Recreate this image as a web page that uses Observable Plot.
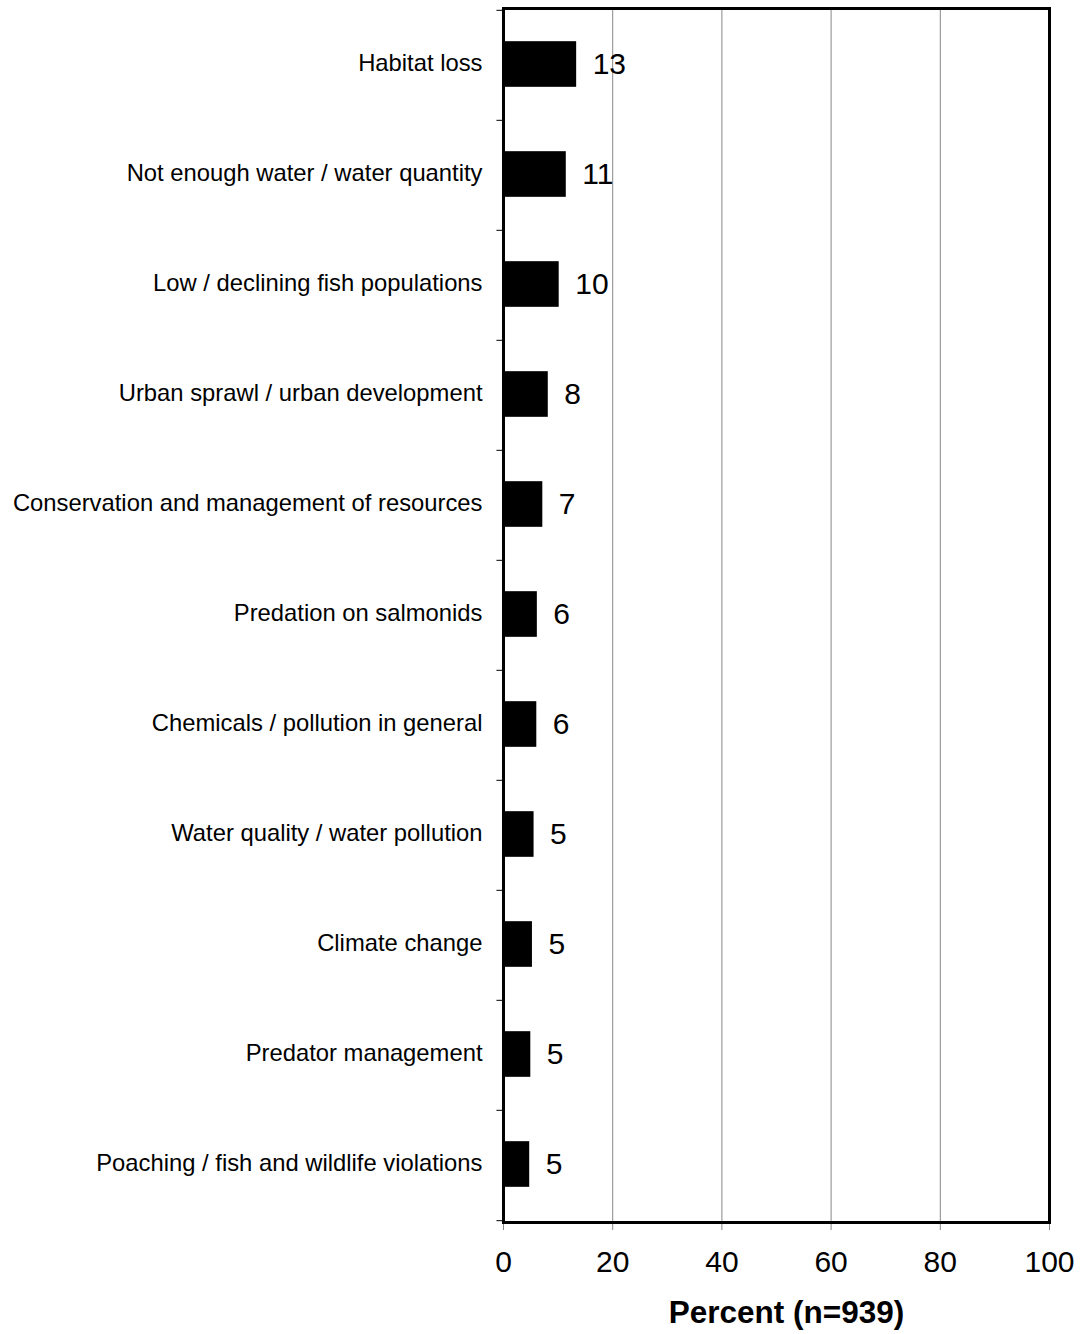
<!DOCTYPE html>
<html>
<head>
<meta charset="utf-8">
<script src="https://cdn.jsdelivr.net/npm/d3@7"></script>
<script src="https://cdn.jsdelivr.net/npm/@observablehq/plot@0.6"></script>
<style>
  body { margin: 0; background: #fff; }
  svg { font-family: "Liberation Sans", Arial, sans-serif; }
</style>
</head>
<body>
<div id="chart"></div>
<script>
const categories = [
  "Habitat loss",
  "Not enough water / water quantity",
  "Low / declining fish populations",
  "Urban sprawl / urban development",
  "Conservation and management of resources",
  "Predation on salmonids",
  "Chemicals / pollution in general",
  "Water quality / water pollution",
  "Climate change",
  "Predator management",
  "Poaching / fish and wildlife violations"
];
const values = [13.4, 11.5, 10.2, 8.2, 7.2, 6.2, 6.1, 5.6, 5.3, 5.0, 4.8];
const labels = ["13", "11", "10", "8", "7", "6", "6", "5", "5", "5", "5"];
const xTicks = [0, 20, 40, 60, 80, 100];
const axisTitle = "Percent (n=939)";

const data = categories.map((c, i) => ({category: c, value: values[i], label: labels[i]}));

const W = 1081, H = 1334;
const mL = 503, mR = 32, mT = 8, mB = 112;
const bw = (H - mT - mB) / categories.length;
const boundaries = categories.map((c, i) => ({category: c, dy: -bw / 2}))
  .concat([{category: categories[categories.length - 1], dy: bw / 2}]);

const chart = Plot.plot({
  width: W,
  height: H,
  marginLeft: mL,
  marginRight: mR,
  marginTop: mT,
  marginBottom: mB,
  style: {fontFamily: "'Liberation Sans', Arial, sans-serif", background: "#fff"},
  x: {domain: [0, 100]},
  y: {domain: categories, padding: 0},
  marks: [
    Plot.gridX(xTicks.filter(d => d > 0 && d < 100), {stroke: "#888", strokeOpacity: 1, strokeWidth: 1}),
    Plot.axisX(xTicks, {tickSize: 8, tickPadding: 20, fontSize: 30, stroke: "#888", strokeOpacity: 1, fill: "#000", label: null, tickFormat: d => String(d)}),
    Plot.axisY({tickSize: 0, tickPadding: 21, fontSize: 23.8, dy: -2, label: null, fill: "#000"}),
    Plot.barX(data, {x: "value", y: "category", fill: "#000", insetTop: (bw - 46) / 2 - 1, insetBottom: (bw - 46) / 2 + 1}),
    Plot.text(data, {x: "value", y: "category", text: "label", dx: 16, dy: -1, textAnchor: "start", fontSize: 30, fill: "#000"}),
    ...boundaries.map(b => Plot.ruleY([b], {y: "category", x1: -1.2, x2: 0, dy: b.dy, stroke: "#000", strokeWidth: 1, clip: false})),
    Plot.frame({stroke: "#000", strokeWidth: 3}),
    Plot.text([axisTitle], {frameAnchor: "bottom", dy: 100, dx: 10, fontSize: 31.5, fontWeight: "bold", fill: "#000"})
  ]
});
document.getElementById("chart").appendChild(chart);
</script>
</body>
</html>
